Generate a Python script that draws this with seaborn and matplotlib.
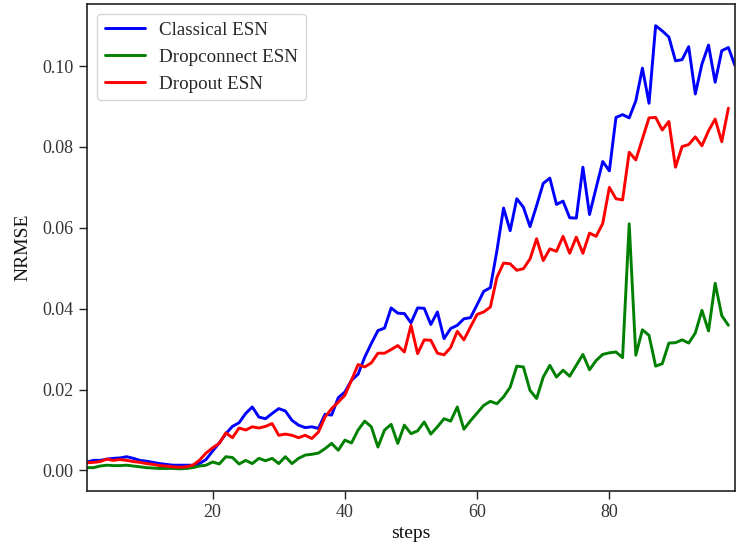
import numpy as np
import pandas as pd
import matplotlib
matplotlib.use("Agg")
import matplotlib.pyplot as plt
import seaborn as sns

series_names = ["Classical ESN", "Dropconnect ESN", "Dropout ESN"]
series_colors = ["blue", "green", "red"]

classical = [0.0021, 0.0025, 0.0025, 0.0028, 0.0030, 0.0031, 0.0034, 0.0030, 0.0025, 0.0023,
             0.0020, 0.0017, 0.0015, 0.0013, 0.0013, 0.0013, 0.0013, 0.0017, 0.0027, 0.0048,
             0.0068, 0.0091, 0.0109, 0.0118, 0.0141, 0.0157, 0.0132, 0.0128, 0.0141, 0.0153,
             0.0147, 0.0124, 0.0112, 0.0106, 0.0108, 0.0104, 0.0139, 0.0137, 0.0180, 0.0194,
             0.0223, 0.0238, 0.0280, 0.0314, 0.0346, 0.0352, 0.0402, 0.0389, 0.0388, 0.0365,
             0.0402, 0.0401, 0.0361, 0.0392, 0.0326, 0.0351, 0.0359, 0.0375, 0.0378, 0.0410,
             0.0443, 0.0452, 0.0544, 0.0649, 0.0593, 0.0672, 0.0651, 0.0603, 0.0655, 0.0710,
             0.0723, 0.0658, 0.0666, 0.0625, 0.0624, 0.0750, 0.0633, 0.0699, 0.0764, 0.0741,
             0.0873, 0.0880, 0.0872, 0.0914, 0.0995, 0.0908, 0.1100, 0.1087, 0.1072, 0.1013,
             0.1016, 0.1048, 0.0931, 0.1005, 0.1052, 0.0960, 0.1038, 0.1046, 0.1001]

dropconnect = [0.0007, 0.0007, 0.0011, 0.0013, 0.0012, 0.0012, 0.0013, 0.0011, 0.0009, 0.0007,
               0.0006, 0.0005, 0.0005, 0.0005, 0.0004, 0.0005, 0.0007, 0.0011, 0.0013, 0.0021,
               0.0016, 0.0034, 0.0032, 0.0016, 0.0025, 0.0017, 0.0030, 0.0024, 0.0030, 0.0017,
               0.0034, 0.0017, 0.0030, 0.0038, 0.0040, 0.0043, 0.0054, 0.0067, 0.0050, 0.0075,
               0.0068, 0.0100, 0.0122, 0.0108, 0.0058, 0.0100, 0.0114, 0.0067, 0.0112, 0.0091,
               0.0098, 0.0120, 0.0090, 0.0108, 0.0128, 0.0122, 0.0157, 0.0102, 0.0123, 0.0142,
               0.0161, 0.0171, 0.0165, 0.0182, 0.0206, 0.0258, 0.0256, 0.0198, 0.0178, 0.0231,
               0.0260, 0.0231, 0.0248, 0.0233, 0.0260, 0.0287, 0.0249, 0.0272, 0.0287, 0.0291,
               0.0293, 0.0279, 0.0610, 0.0285, 0.0348, 0.0334, 0.0258, 0.0264, 0.0315, 0.0316,
               0.0323, 0.0315, 0.0340, 0.0396, 0.0345, 0.0463, 0.0383, 0.0359]

dropout = [0.0019, 0.0020, 0.0022, 0.0028, 0.0025, 0.0027, 0.0025, 0.0022, 0.0020, 0.0017,
           0.0015, 0.0012, 0.0011, 0.0009, 0.0008, 0.0009, 0.0013, 0.0025, 0.0043, 0.0056,
           0.0067, 0.0093, 0.0081, 0.0105, 0.0100, 0.0108, 0.0105, 0.0109, 0.0116, 0.0087,
           0.0090, 0.0087, 0.0081, 0.0087, 0.0079, 0.0095, 0.0132, 0.0153, 0.0169, 0.0186,
           0.0223, 0.0262, 0.0256, 0.0266, 0.0290, 0.0290, 0.0299, 0.0309, 0.0293, 0.0359,
           0.0289, 0.0323, 0.0322, 0.0290, 0.0286, 0.0304, 0.0344, 0.0323, 0.0355, 0.0386,
           0.0392, 0.0404, 0.0478, 0.0513, 0.0511, 0.0495, 0.0499, 0.0523, 0.0573, 0.0519,
           0.0548, 0.0542, 0.0579, 0.0537, 0.0577, 0.0537, 0.0587, 0.0579, 0.0611, 0.0700,
           0.0672, 0.0669, 0.0787, 0.0768, 0.0820, 0.0872, 0.0873, 0.0842, 0.0863, 0.0750,
           0.0801, 0.0806, 0.0825, 0.0803, 0.0840, 0.0869, 0.0813, 0.0896]

x_ticks = [20, 40, 60, 80]
y_ticks = [0.00, 0.02, 0.04, 0.06, 0.08, 0.10]

frames = []
for name, vals in zip(series_names, [classical, dropconnect, dropout]):
    frames.append(pd.DataFrame({"steps": np.arange(1, len(vals) + 1),
                                "NRMSE": vals, "model": name}))
df = pd.concat(frames, ignore_index=True)

sns.set_style("ticks")
plt.rcParams["font.family"] = ["Liberation Serif", "DejaVu Serif"]

fig = plt.figure(figsize=(7.48, 5.48), dpi=100)
ax = fig.add_axes([0.1163, 0.104, 0.8663, 0.8896])

sns.lineplot(data=df, x="steps", y="NRMSE", hue="model", hue_order=series_names,
             palette=dict(zip(series_names, series_colors)), linewidth=2.1,
             estimator=None, ax=ax)

ax.margins(x=0)
ax.set_xticks(x_ticks)
ax.set_yticks(y_ticks)
ax.set_yticklabels([f"{v:.2f}" for v in y_ticks])
ax.tick_params(axis="both", labelsize=13, length=6, width=1, colors="#222222",
               labelcolor="#333333", direction="out", pad=3.5)
for s in ax.spines.values():
    s.set_visible(True)
    s.set_color("#222222")
    s.set_linewidth(1.2)
ax.set_xlabel("steps", fontsize=14, color="#111111", labelpad=3)
ax.set_ylabel("NRMSE", fontsize=14, color="#111111", labelpad=8)

leg = ax.legend(loc="upper left", fontsize=13.7, frameon=True, fancybox=True,
                handlelength=2.1, handletextpad=0.75, borderaxespad=0.55)
leg.get_frame().set_edgecolor("#cccccc")
for line in leg.get_lines():
    line.set_linewidth(2.1)

fig.savefig("out.png", dpi=100)
